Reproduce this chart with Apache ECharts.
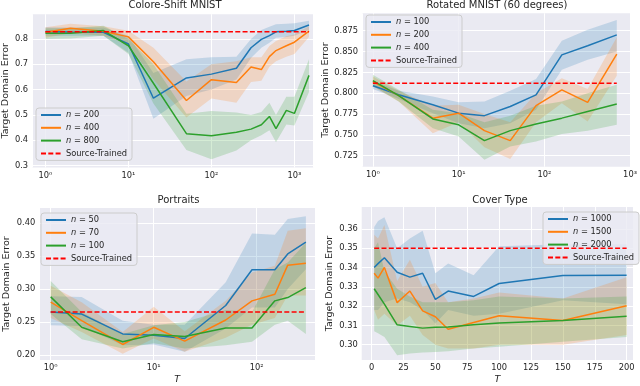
<!DOCTYPE html>
<html>
<head>
<meta charset="utf-8">
<script src="https://cdn.jsdelivr.net/npm/echarts@6/dist/echarts.min.js"></script>
<style>
  html, body { margin: 0; padding: 0; background: #fff; }
  #chart { width: 640px; height: 386px; }
</style>
</head>
<body>
<div id="chart"></div>
<script>
// Colore-Shift MNIST
const csT = [1, 2, 5, 10, 20, 50, 100, 200, 300, 400, 500, 600, 800, 1000, 1500];
const cs200 = [0.829, 0.827, 0.826, 0.780, 0.566, 0.646, 0.661, 0.684, 0.765, 0.798, 0.813, 0.828, 0.830, 0.833, 0.855];
const cs200Lo = [0.812, 0.812, 0.812, 0.745, 0.485, 0.575, 0.600, 0.640, 0.725, 0.765, 0.785, 0.805, 0.808, 0.812, 0.835];
const cs200Hi = [0.846, 0.845, 0.845, 0.812, 0.665, 0.720, 0.728, 0.730, 0.800, 0.835, 0.848, 0.858, 0.860, 0.862, 0.872];
const cs400 = [0.826, 0.842, 0.830, 0.808, 0.710, 0.557, 0.639, 0.628, 0.689, 0.679, 0.730, 0.754, 0.773, 0.787, 0.831];
const cs400Lo = [0.805, 0.822, 0.812, 0.780, 0.640, 0.490, 0.565, 0.548, 0.630, 0.635, 0.690, 0.712, 0.730, 0.740, 0.808];
const cs400Hi = [0.846, 0.860, 0.850, 0.832, 0.765, 0.632, 0.700, 0.712, 0.728, 0.728, 0.772, 0.792, 0.810, 0.818, 0.850];
const cs800 = [0.822, 0.822, 0.833, 0.773, 0.625, 0.426, 0.418, 0.432, 0.444, 0.461, 0.494, 0.446, 0.518, 0.506, 0.656];
const cs800Lo = [0.800, 0.802, 0.812, 0.740, 0.545, 0.362, 0.325, 0.360, 0.400, 0.420, 0.440, 0.392, 0.462, 0.458, 0.590];
const cs800Hi = [0.842, 0.842, 0.852, 0.800, 0.700, 0.505, 0.515, 0.510, 0.500, 0.512, 0.548, 0.500, 0.572, 0.572, 0.720];
const csSource = 0.828;
const csYTicks = [0.3, 0.4, 0.5, 0.6, 0.7, 0.8];

// Rotated MNIST (60 degrees)
const rmT = [1, 2, 5, 10, 20, 40, 80, 160, 320, 700];
const rm100 = [0.809, 0.798, 0.786, 0.776, 0.773, 0.784, 0.798, 0.846, 0.857, 0.870];
const rm100Lo = [0.805, 0.793, 0.776, 0.764, 0.758, 0.764, 0.780, 0.828, 0.840, 0.850];
const rm100Hi = [0.815, 0.803, 0.796, 0.789, 0.790, 0.803, 0.817, 0.863, 0.876, 0.888];
const rm200 = [0.814, 0.797, 0.770, 0.776, 0.755, 0.743, 0.785, 0.804, 0.789, 0.847];
const rm200Lo = [0.808, 0.790, 0.752, 0.765, 0.735, 0.721, 0.765, 0.788, 0.766, 0.821];
const rm200Hi = [0.820, 0.803, 0.785, 0.786, 0.775, 0.765, 0.800, 0.818, 0.805, 0.867];
const rm400 = [0.815, 0.797, 0.769, 0.762, 0.743, 0.755, 0.763, 0.770, 0.778, 0.787];
const rm400Lo = [0.809, 0.790, 0.758, 0.748, 0.720, 0.736, 0.742, 0.751, 0.755, 0.762];
const rm400Hi = [0.822, 0.804, 0.780, 0.776, 0.765, 0.773, 0.785, 0.790, 0.800, 0.810];
const rmSource = 0.812;
const rmYTicks = [0.725, 0.75, 0.775, 0.8, 0.825, 0.85, 0.875];

// Portraits
const ptT = [1, 2, 5, 10, 20, 50, 90, 150, 200, 300];
const pt50 = [0.265, 0.262, 0.232, 0.230, 0.225, 0.275, 0.329, 0.329, 0.353, 0.371];
const pt50Lo = [0.245, 0.244, 0.215, 0.216, 0.205, 0.240, 0.272, 0.272, 0.300, 0.330];
const pt50Hi = [0.289, 0.288, 0.252, 0.246, 0.246, 0.310, 0.384, 0.382, 0.406, 0.410];
const pt70 = [0.280, 0.252, 0.216, 0.242, 0.221, 0.253, 0.282, 0.292, 0.336, 0.339];
const pt70Lo = [0.256, 0.235, 0.202, 0.225, 0.205, 0.226, 0.246, 0.256, 0.290, 0.290];
const pt70Hi = [0.305, 0.280, 0.235, 0.273, 0.236, 0.282, 0.325, 0.335, 0.388, 0.392];
const pt100 = [0.288, 0.242, 0.220, 0.231, 0.228, 0.241, 0.241, 0.282, 0.287, 0.302];
const pt100Lo = [0.262, 0.224, 0.210, 0.218, 0.210, 0.215, 0.220, 0.246, 0.252, 0.232];
const pt100Hi = [0.312, 0.265, 0.232, 0.245, 0.250, 0.268, 0.265, 0.330, 0.340, 0.370];
const ptSource = 0.265;
const ptYTicks = [0.2, 0.25, 0.3, 0.35, 0.4];

// Cover Type
const ctT = [2, 5, 10, 20, 30, 40, 50, 60, 80, 100, 150, 200];
const ct1000 = [0.340, 0.342, 0.345, 0.3375, 0.335, 0.337, 0.3235, 0.3278, 0.325, 0.3317, 0.3358, 0.336];
const ct1000Lo = [0.318, 0.318, 0.322, 0.324, 0.322, 0.318, 0.311, 0.318, 0.315, 0.316, 0.323, 0.321];
const ct1000Hi = [0.361, 0.364, 0.366, 0.350, 0.355, 0.359, 0.337, 0.342, 0.336, 0.351, 0.352, 0.352];
const ct1500 = [0.337, 0.3345, 0.340, 0.3218, 0.3278, 0.3175, 0.3145, 0.308, 0.3115, 0.315, 0.3125, 0.3202];
const ct1500Lo = [0.318, 0.313, 0.316, 0.310, 0.315, 0.305, 0.300, 0.298, 0.298, 0.300, 0.300, 0.305];
const ct1500Hi = [0.357, 0.355, 0.362, 0.333, 0.344, 0.330, 0.332, 0.322, 0.324, 0.327, 0.324, 0.335];
const ct2000 = [0.329, 0.326, 0.321, 0.3103, 0.3095, 0.3086, 0.309, 0.3092, 0.3103, 0.3113, 0.3125, 0.3147];
const ct2000Lo = [0.307, 0.306, 0.304, 0.2945, 0.2955, 0.296, 0.2963, 0.2966, 0.298, 0.299, 0.3015, 0.304];
const ct2000Hi = [0.350, 0.353, 0.338, 0.329, 0.325, 0.322, 0.322, 0.322, 0.323, 0.325, 0.324, 0.325];
const ctSource = 0.35;
const ctYTicks = [0.30, 0.31, 0.32, 0.33, 0.34, 0.35, 0.36];
const ctXTicks = [0, 25, 50, 75, 100, 125, 150, 175, 200];

const titles = ['Colore-Shift MNIST', 'Rotated MNIST (60 degrees)', 'Portraits', 'Cover Type'];
const COLORS = ['#1f77b4', '#ff7f0e', '#2ca02c'];
const RED = '#ff0000';
const FONT = 'DejaVu Sans';
const TXT = '#262626';
const SUP = ['\u2070', '\u00b9', '\u00b2', '\u00b3'];

const chart = echarts.init(document.getElementById('chart'), null, { renderer: 'canvas' });

function rgba(hex, a) {
  const n = parseInt(hex.slice(1), 16);
  return 'rgba(' + (n >> 16) + ',' + ((n >> 8) & 255) + ',' + (n & 255) + ',' + a + ')';
}

// confidence band drawn as one polygon through the axis scales
function band(gi, xs, lo, hi, color) {
  return {
    type: 'custom',
    xAxisIndex: gi,
    yAxisIndex: gi,
    silent: true,
    clip: true,
    z: 1,
    data: xs.map((x, i) => [x, lo[i], hi[i]]),
    encode: { x: 0, y: [1, 2] },
    renderItem: function (params, api) {
      if (params.dataIndex !== 0) return null;
      const pts = [];
      for (let i = 0; i < xs.length; i++) pts.push(api.coord([xs[i], hi[i]]));
      for (let i = xs.length - 1; i >= 0; i--) pts.push(api.coord([xs[i], lo[i]]));
      return { type: 'polygon', shape: { points: pts }, style: { fill: rgba(color, 0.2) } };
    }
  };
}

function line(gi, name, xs, ys, color) {
  return {
    type: 'line',
    name: name,
    xAxisIndex: gi,
    yAxisIndex: gi,
    data: xs.map((x, i) => [x, ys[i]]),
    symbol: 'none',
    lineStyle: { color: color, width: 1.5 },
    itemStyle: { color: color },
    z: 3
  };
}

function source(gi, xs, v) {
  return {
    type: 'line',
    name: 'Source-Trained',
    xAxisIndex: gi,
    yAxisIndex: gi,
    data: [[xs[0], v], [xs[xs.length - 1], v]],
    symbol: 'none',
    lineStyle: { color: RED, width: 1.5, type: [5, 2.3] },
    itemStyle: { color: RED },
    z: 4
  };
}

const panels = [
  { key: 'cs', xs: csT, ns: [200, 400, 800], ys: [[cs200, cs200Lo, cs200Hi], [cs400, cs400Lo, cs400Hi], [cs800, cs800Lo, cs800Hi]], src: csSource },
  { key: 'rm', xs: rmT, ns: [100, 200, 400], ys: [[rm100, rm100Lo, rm100Hi], [rm200, rm200Lo, rm200Hi], [rm400, rm400Lo, rm400Hi]], src: rmSource },
  { key: 'pt', xs: ptT, ns: [50, 70, 100], ys: [[pt50, pt50Lo, pt50Hi], [pt70, pt70Lo, pt70Hi], [pt100, pt100Lo, pt100Hi]], src: ptSource },
  { key: 'ct', xs: ctT, ns: [1000, 1500, 2000], ys: [[ct1000, ct1000Lo, ct1000Hi], [ct1500, ct1500Lo, ct1500Hi], [ct2000, ct2000Lo, ct2000Hi]], src: ctSource }
];

const grids = [
  { left: 31.7, top: 14.2, width: 281.6, height: 153.3 },
  { left: 362, top: 13.3, width: 271, height: 153.4 },
  { left: 39.3, top: 208, width: 275.7, height: 153.3 },
  { left: 361.7, top: 207, width: 271.3, height: 154 }
];
const legendPos = [
  { left: 36, top: 108 },
  { left: 366, top: 15 },
  { left: 41, top: 213 },
  { left: 543, top: 212 }
];
const titleX = [175, 497, 178.5, 500];
const titleY = [0, 0, 195, 195];

const series = [];
const legends = [];
panels.forEach((p, gi) => {
  const names = [];
  p.ns.forEach((n, k) => series.push(band(gi, p.xs, p.ys[k][1], p.ys[k][2], COLORS[k])));
  p.ns.forEach((n, k) => {
    const name = p.key + '|' + n;
    names.push(name);
    series.push(line(gi, name, p.xs, p.ys[k][0], COLORS[k]));
  });
  series.push(source(gi, p.xs, p.src));
  names.push('Source-Trained');
  legends.push({
    data: names,
    orient: 'vertical',
    left: legendPos[gi].left,
    top: legendPos[gi].top,
    itemWidth: 20,
    itemHeight: 10,
    itemGap: 4.8,
    padding: [3, 5, 3, 4],
    itemStyle: { opacity: 0 },
    backgroundColor: 'rgba(234,234,242,0.8)',
    borderColor: '#cccccc',
    borderWidth: 1,
    borderRadius: 3,
    selectedMode: false,
    formatter: function (name) {
      if (name === 'Source-Trained') return name;
      return '{i|n} = ' + name.split('|')[1];
    },
    textStyle: {
      fontFamily: FONT, fontSize: 8.3, color: TXT,
      rich: { i: { fontFamily: FONT, fontSize: 8.3, fontStyle: 'italic', color: TXT } }
    }
  });
});

function logLabel(v) {
  const e = Math.log10(v);
  const r = Math.round(e);
  if (Math.abs(e - r) > 1e-6 || r < 0 || r > 3) return '';
  return '10' + SUP[r];
}

const baseX = {
  axisLine: { show: false },
  axisTick: { show: false },
  splitLine: { show: true, lineStyle: { color: '#ffffff', width: 1 } },
  axisLabel: { fontFamily: FONT, fontSize: 8.3, color: TXT, margin: 4 },
  nameTextStyle: { fontFamily: FONT, fontSize: 9.5, color: TXT, fontStyle: 'italic' }
};

const xAxes = [
  Object.assign({}, baseX, { gridIndex: 0, type: 'log', logBase: 10, min: 0.69, max: 1690,
    axisLabel: Object.assign({}, baseX.axisLabel, { formatter: logLabel }) }),
  Object.assign({}, baseX, { gridIndex: 1, type: 'log', logBase: 10, min: 0.746, max: 1000,
    axisLabel: Object.assign({}, baseX.axisLabel, { formatter: logLabel }) }),
  Object.assign({}, baseX, { gridIndex: 2, type: 'log', logBase: 10, min: 0.775, max: 368,
    name: 'T', nameLocation: 'middle', nameGap: 15,
    axisLabel: Object.assign({}, baseX.axisLabel, { formatter: logLabel }) }),
  Object.assign({}, baseX, { gridIndex: 3, type: 'value', min: -7.8, max: 205,
    name: 'T', nameLocation: 'middle', nameGap: 15,
    axisTick: { show: false, customValues: ctXTicks },
    axisLabel: Object.assign({}, baseX.axisLabel, { customValues: ctXTicks }) })
];

function yAxis(gi, min, max, ticks, digits, gap) {
  return {
    gridIndex: gi,
    type: 'value',
    min: min,
    max: max,
    name: 'Target Domain Error',
    nameLocation: 'middle',
    nameGap: gap,
    nameTextStyle: { fontFamily: FONT, fontSize: 9.5, color: TXT },
    axisLine: { show: false },
    axisTick: { show: false, customValues: ticks },
    splitLine: { show: true, lineStyle: { color: '#ffffff', width: 1 } },
    axisLabel: {
      customValues: ticks,
      fontFamily: FONT, fontSize: 8.3, color: TXT, margin: 4,
      formatter: v => v.toFixed(digits)
    }
  };
}

const yAxes = [
  yAxis(0, 0.2925, 0.8975, csYTicks, 1, 21),
  yAxis(1, 0.7117, 0.8959, rmYTicks, 3, 30),
  yAxis(2, 0.1925, 0.4225, ptYTicks, 2, 28),
  yAxis(3, 0.2921, 0.3713, ctYTicks, 2, 27)
];

const option = {
  animation: false,
  backgroundColor: '#ffffff',
  title: titles.map((t, i) => ({
    text: t,
    left: titleX[i],
    top: titleY[i],
    textAlign: 'center',
    padding: 0,
    textStyle: { fontFamily: FONT, fontSize: 10, fontWeight: 'normal', color: TXT }
  })),
  legend: legends,
  grid: grids.map(g => Object.assign({ show: true, backgroundColor: '#EAEAF2', borderWidth: 0 }, g)),
  xAxis: xAxes,
  yAxis: yAxes,
  series: series
};

chart.setOption(option);
</script>
</body>
</html>
